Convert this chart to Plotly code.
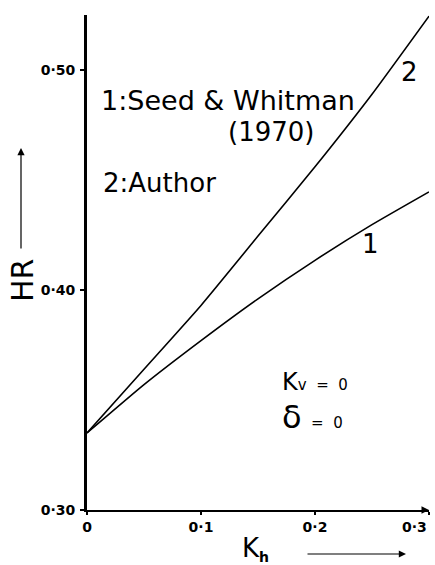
import plotly.graph_objects as go

# Horizontal seismic coefficient Kh and thrust ratio HR
kh = [0.0, 0.05, 0.10, 0.15, 0.20, 0.25, 0.30]
hr_seed_whitman = [0.335, 0.357, 0.377, 0.396, 0.4135, 0.4297, 0.4446]
hr_author = [0.335, 0.364, 0.393, 0.4245, 0.456, 0.489, 0.5245]

x_ticks = [0, 0.1, 0.2, 0.3]
x_ticktext = ["0", "0·1", "0·2", "0·3"]
y_ticks = [0.30, 0.40, 0.50]
y_ticktext = ["0·30", "0·40", "0·50"]

ink = "black"
text_font = "DejaVu Sans"

fig = go.Figure()
for ys in (hr_seed_whitman, hr_author):
    fig.add_trace(go.Scatter(
        x=kh, y=ys, mode="lines",
        line=dict(color=ink, width=1.6, shape="spline", smoothing=0.5),
        showlegend=False, hoverinfo="skip",
    ))

W, H = 435, 565
m = dict(l=87, r=6, t=15, b=55)

tick_font = dict(family=text_font, size=14, color=ink, weight="bold")

# The last Kh label sits flush with the axis end, so it is drawn as a
# right-anchored annotation instead of a centred tick label.
axis_ticktext = x_ticktext[:-1] + [""]

fig.update_layout(
    width=W, height=H, margin=m,
    paper_bgcolor="white", plot_bgcolor="white",
    font=dict(family=text_font, color=ink),
    xaxis=dict(
        range=[0, 0.3], showgrid=False, zeroline=False, automargin=False,
        showline=True, linecolor=ink, linewidth=2,
        ticks="outside", ticklen=3, tickcolor=ink, tickwidth=1.5,
        tickvals=x_ticks, ticktext=axis_ticktext, tickfont=tick_font,
    ),
    yaxis=dict(
        range=[0.30, 0.525], showgrid=False, zeroline=False, automargin=False,
        showline=True, linecolor=ink, linewidth=3,
        ticks="outside", ticklen=4, tickcolor=ink, tickwidth=1.5,
        tickvals=y_ticks, ticktext=y_ticktext, tickfont=tick_font,
        ticklabelstandoff=2, ticklabeloverflow="allow",
    ),
)
fig.add_annotation(text=x_ticktext[-1], x=x_ticks[-1], y=0, xref="x",
                   yref="paper", xanchor="right", yanchor="top", yshift=-7,
                   showarrow=False, font=tick_font)

def note(text, x, y, size, xanchor="center", ref="data", **kw):
    xr, yr = ("x", "y") if ref == "data" else ("paper", "paper")
    fig.add_annotation(
        text=text, x=x, y=y, xref=xr, yref=yr, showarrow=False,
        xanchor=xanchor, yanchor="middle",
        font=dict(family=text_font, size=size, color=ink), **kw,
    )

# Key and curve labels
note("1:Seed & Whitman", 0.0105, 0.486, 27, xanchor="left")
note("(1970)", 0.1614, 0.4718, 26)
note("2:Author", 0.0125, 0.4486, 26, xanchor="left")
note("2", 0.2833, 0.4991, 26)
note("1", 0.249, 0.4209, 26)

# Conditions
note("K<span style='font-size:15px'>v  =  0</span>",
     0.1695, 0.358, 24, xanchor="left")
note("δ<span style='font-size:15px'>  =  0</span>", 0.1695, 0.3425, 32,
     xanchor="left")

# Axis titles with direction arrows (paper coordinates from pixel offsets)
pw = W - m["l"] - m["r"]
ph = H - m["t"] - m["b"]

def px(xp, yp):
    return (xp - m["l"]) / pw, (H - m["b"] - yp) / ph

hx, hy = px(22, 281)
note("HR", hx, hy, 30, ref="paper", textangle=-90)
kx, ky = px(255, 549)
note("K<sub><b style='font-size:14px'>h</b></sub>", kx, ky, 26, ref="paper")

ax_, ay_ = px(21, 148)
fig.add_annotation(x=ax_, y=ay_, xref="paper", yref="paper", ax=0, ay=102,
                   showarrow=True, arrowhead=2, arrowsize=1.2, arrowwidth=1.2,
                   arrowcolor=ink, text="")
bx, by = px(406, 554)
fig.add_annotation(x=bx, y=by, xref="paper", yref="paper", ax=-100, ay=0,
                   showarrow=True, arrowhead=2, arrowsize=1.2, arrowwidth=1.2,
                   arrowcolor=ink, text="")
# Arrowhead at the end of the Kh axis
fig.add_annotation(x=0.3, y=0.30, xref="x", yref="y", ax=-8, ay=0,
                   showarrow=True, arrowhead=2, arrowsize=1, arrowwidth=1.5,
                   arrowcolor=ink, text="")

fig.write_html("out.html")
